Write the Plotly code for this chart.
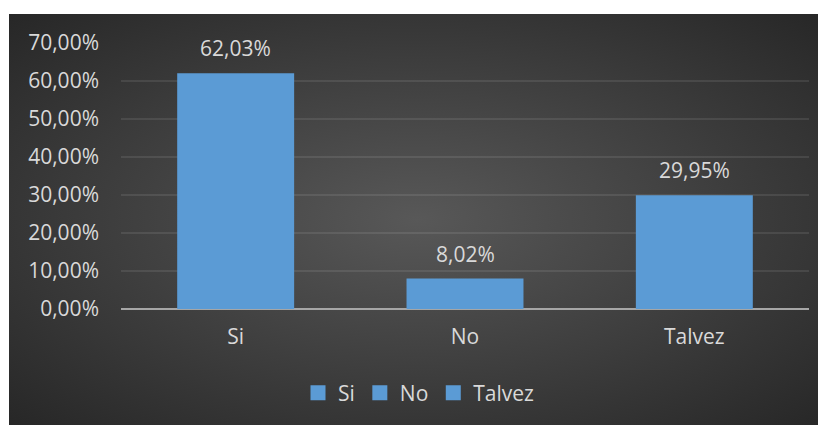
import base64
import plotly.graph_objects as go

categories = ["Si", "No", "Talvez"]
values = [0.6203, 0.0802, 0.2995]
y_ticks = [0, 0.1, 0.2, 0.3, 0.4, 0.5, 0.6, 0.7]

BAR = "#5b9bd5"
TXT = "#d9d9d9"
FONT = "Open Sans"

# page has an 8px body margin, so figure coordinates = page coordinates - 8
W, H = 818, 417
L, R, T, B = 113, 17, 35, 116
pw, ph = W - L - R, H - T - B

svg = (
    '<svg xmlns="http://www.w3.org/2000/svg" width="817" height="411" viewBox="0 0 817 411" preserveAspectRatio="none">'
    '<defs><radialGradient id="g" cx="50%" cy="50%" r="72%" gradientUnits="objectBoundingBox">'
    '<stop offset="0" stop-color="#585858"/><stop offset="1" stop-color="#262626"/>'
    '</radialGradient></defs><rect width="817" height="411" fill="url(#g)"/></svg>'
)
src = "data:image/svg+xml;base64," + base64.b64encode(svg.encode()).decode()

fig = go.Figure()
for c, v in zip(categories, values):
    fig.add_trace(go.Bar(x=[c], y=[v], name=c, width=0.51, legendgroup=c,
                         showlegend=False,
                         marker=dict(color=BAR, line=dict(width=0))))
for c in categories:
    fig.add_trace(go.Scatter(x=[None], y=[None], name=c, legendgroup=c,
                             mode="markers", hoverinfo="skip",
                             marker=dict(symbol="square", size=15, color=BAR)))

annotations = [
    dict(x=c, y=v, xref="x", yref="y", text=f"{v*100:.2f}%".replace(".", ","),
         showarrow=False, yanchor="bottom", yshift=9,
         font=dict(family=FONT, size=21, color=TXT))
    for c, v in zip(categories, values)
]

fig.update_layout(
    width=W, height=H,
    margin=dict(l=L, r=R, t=T, b=B),
    paper_bgcolor="white", plot_bgcolor="rgba(0,0,0,0)",
    separators=",.",
    barmode="overlay",
    font=dict(family=FONT, size=21, color=TXT),
    showlegend=True,
    legend=dict(orientation="h", x=(419 - 8 - L) / pw, xanchor="center",
                y=(T + ph - (393 - 8)) / ph, yanchor="middle",
                font=dict(family=FONT, size=21, color=TXT),
                bgcolor="rgba(0,0,0,0)", itemwidth=30, tracegroupgap=0),
    images=[dict(source=src, xref="paper", yref="paper",
                 x=(1 - L) / pw, y=(T + ph - 6) / ph,
                 sizex=817 / pw, sizey=411 / ph,
                 xanchor="left", yanchor="top", sizing="stretch", layer="below")],
    annotations=annotations,
    xaxis=dict(type="category", categoryarray=categories, categoryorder="array",
               showgrid=False, zeroline=False, showline=False,
               ticks="", ticklabelstandoff=13,
               tickfont=dict(family=FONT, size=21, color=TXT)),
    yaxis=dict(range=[0, 0.70], tickvals=y_ticks, tickformat=".2%",
               showgrid=True, gridcolor="rgba(255,255,255,0.09)", gridwidth=1.5,
               zeroline=True, zerolinecolor="#a6a6a6", zerolinewidth=2,
               showline=False, ticks="", ticklabelstandoff=21,
               tickfont=dict(family=FONT, size=21, color=TXT)),
)

fig.write_html("out.html")
